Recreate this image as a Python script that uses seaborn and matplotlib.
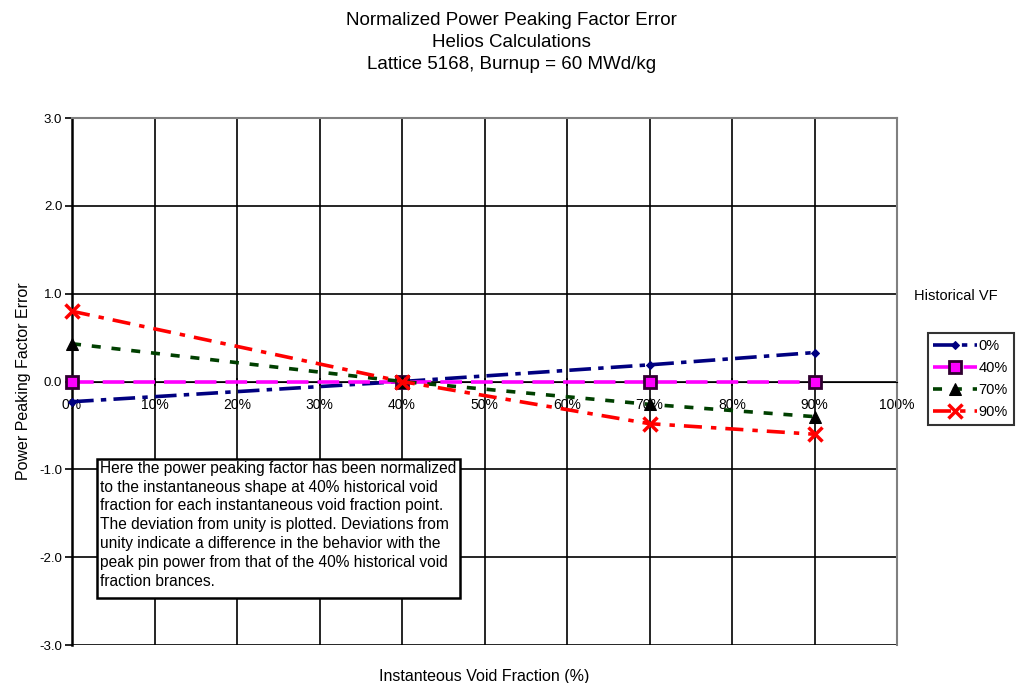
import numpy as np
import pandas as pd
import matplotlib
matplotlib.use("Agg")
import matplotlib.pyplot as plt
import seaborn as sns
from matplotlib.patches import Rectangle

# data
void_points = [0, 40, 70, 90]          # instantaneous void fraction (%)
hist_labels = ['0%', '40%', '70%', '90%']
err_hist_0 = [-0.23, 0.0, 0.19, 0.33]
err_hist_40 = [0.0, 0.0, 0.0, 0.0]
err_hist_70 = [0.43, 0.0, -0.26, -0.40]
err_hist_90 = [0.80, 0.0, -0.48, -0.60]

x_ticks = list(range(0, 101, 10))
x_tick_labels = [f'{v}%' for v in x_ticks]
y_ticks = [-3.0, -2.0, -1.0, 0.0, 1.0, 2.0, 3.0]

title_lines = ['Normalized Power Peaking Factor Error',
               'Helios Calculations',
               'Lattice 5168, Burnup = 60 MWd/kg']
note = ('Here the power peaking factor has been normalized\n'
        'to the instantaneous shape at 40% historical void\n'
        'fraction for each instantaneous void fraction point.\n'
        'The deviation from unity is plotted. Deviations from\n'
        'unity indicate a difference in the behavior with the\n'
        'peak pin power from that of the 40% historical void\n'
        'fraction brances.')

df = pd.DataFrame({
    'void': void_points * 4,
    'err': err_hist_0 + err_hist_40 + err_hist_70 + err_hist_90,
    'hist': [h for h in hist_labels for _ in void_points],
})

sns.set_style('white')
plt.rcParams['font.family'] = ['Liberation Sans', 'DejaVu Sans']
plt.rcParams['text.color'] = 'black'
plt.rcParams['axes.labelcolor'] = 'black'
plt.rcParams['xtick.color'] = 'black'
plt.rcParams['ytick.color'] = 'black'

palette = {'0%': '#000080', '40%': '#ff00ff', '70%': '#004000', '90%': '#ff0000'}
dashes = {'0%': (6, 2, 1.5, 2), '40%': (6, 2.5), '70%': (2.5, 3), '90%': (5, 2.5, 1.5, 2.5)}
markers = {'0%': 'D', '40%': 's', '70%': '^', '90%': 'X'}

fig = plt.figure(figsize=(10.23, 6.83), dpi=100)
ax = fig.add_axes([0.0704, 0.0556, 0.8065, 0.7716])

sns.lineplot(data=df, x='void', y='err', hue='hist', style='hist',
             palette=palette, dashes=dashes, markers=markers,
             linewidth=2.6, ax=ax, legend=True)

# per-series marker styling like the Excel original
mstyle = {
    '0%': dict(markersize=4, markerfacecolor='#000080', markeredgecolor='#000080', marker='D'),
    '40%': dict(markersize=8, markerfacecolor='#ff00ff', markeredgecolor='#300030',
                markeredgewidth=2, marker='s'),
    '70%': dict(markersize=8, markerfacecolor='black', markeredgecolor='black', marker='^'),
    '90%': dict(markersize=10, markeredgecolor='#ff0000', markeredgewidth=2.5, marker='x'),
}
for line, lab in zip(ax.get_lines()[:4], hist_labels):
    line.set(**mstyle[lab])
    line.set_zorder(3)
    line.set_clip_on(False)

ax.set_xlim(0, 100)
ax.set_ylim(-3, 3)
ax.set_xticks(x_ticks)
ax.set_xticklabels(x_tick_labels, fontsize=9.5)
ax.set_yticks(y_ticks)
ax.set_yticklabels([f'{v:.1f}' for v in y_ticks], fontsize=9.5)
ax.grid(True, color='black', linewidth=1.2)
ax.set_axisbelow(True)

ax.spines['bottom'].set_position(('data', 0))
ax.spines['bottom'].set_color('black')
ax.spines['left'].set_color('black')
ax.spines['left'].set_linewidth(1.8)
for s in ['top', 'right']:
    ax.spines[s].set_color('#808080')
    ax.spines[s].set_linewidth(1.5)
ax.tick_params(axis='y', direction='out', length=5, width=1.2, color='black', pad=2, left=True)
ax.tick_params(axis='x', direction='inout', length=6, width=1.2, color='black', pad=9, bottom=True)

ax.set_xlabel('Instanteous Void Fraction (%)', fontsize=11.5)
ax.xaxis.set_label_coords(0.5, -0.045)
ax.set_ylabel('Power Peaking Factor Error', fontsize=11.5, labelpad=6)

# legend outside on the right
handles, labels = ax.get_legend_handles_labels()
for h, lab in zip(handles, labels):
    h.set(**mstyle[lab])
leg = ax.legend(handles, labels, loc='upper left', bbox_to_anchor=(1.037, 0.592),
                borderaxespad=0, fontsize=10.5, frameon=True, fancybox=False,
                handlelength=3.0, handletextpad=0.1, labelspacing=0.55,
                borderpad=0.4)
leg.get_frame().set_edgecolor('black')
leg.get_frame().set_linewidth(1.5)
fig.text(0.893, 0.566, 'Historical VF', fontsize=10.5, ha='left', va='center')

# note box
ax.add_patch(Rectangle((0.030, 0.089), 0.44, 0.264, transform=ax.transAxes,
                       facecolor='white', edgecolor='black', linewidth=1.8, zorder=4))
ax.text(0.034, 0.350, note, transform=ax.transAxes, fontsize=11.2, va='top', ha='left',
        linespacing=1.33, zorder=5)

fig.text(0.5, 0.982, '\n'.join(title_lines), fontsize=13.5, ha='center', va='top',
         linespacing=1.38)

fig.savefig('out.png', dpi=100)
